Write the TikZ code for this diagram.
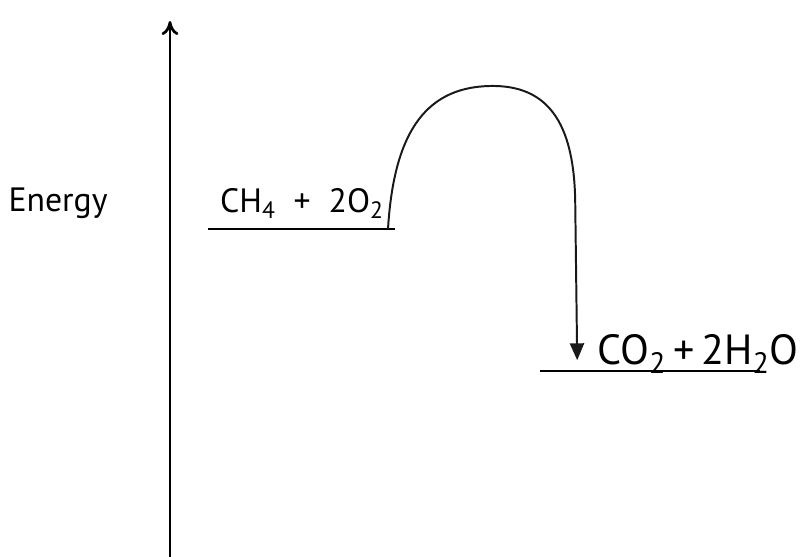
\documentclass[tikz,border=0pt]{standalone}
\usepackage{fontspec}
\setmainfont{PT Sans}
\usetikzlibrary{arrows.meta,positioning}

\begin{document}
\begin{tikzpicture}[
  axis/.style={draw, line width=1.9pt, -{To[length=10pt,width=12pt]}},
  level/.style={draw, line width=1.8pt},
  path/.style={draw, line width=1.4pt, gray!20!black, -{Triangle[length=12pt,width=10pt]}},
  label/.style={font=\fontsize{24}{28}\selectfont, inner sep=0pt, anchor=base},
  hand/.style={font=\fontsize{30}{34}\selectfont, inner sep=0pt, anchor=base}
]
  \useasboundingbox (0,0) rectangle (20.125,13.925);
  % energy axis
  \coordinate (axisbot) at (4.25,0);
  \coordinate (axistop) at (4.25,13.4);
  \draw[axis] (axisbot) -- (axistop);
  \node[label, anchor=center] (energy) at (1.45,8.85) {Energy};
  % levels
  \coordinate (rleft) at (5.2,8.2);
  \coordinate (rright) at (9.875,8.2);
  \coordinate (pleft) at (13.5,4.65);
  \coordinate (pright) at (19.0,4.65);
  \draw[level] (rleft) -- (rright);
  \draw[level] (pleft) -- (pright);
  \node[label] (reactants) at (7.55,8.6) {CH\textsubscript{4} \ + \ 2O\textsubscript{2}};
  \node[hand] (products) at (17.45,4.8) {CO\textsubscript{2}\,+\,2H\textsubscript{2}O};
  % reaction path
  \coordinate (rstart) at (9.7,8.2);
  \coordinate (peak) at (12.375,11.775);
  \coordinate (pend) at (14.43,4.92);
  \draw[path] (rstart) .. controls (9.85,10.7) and (10.7,11.8) .. (peak)
    .. controls (13.8,11.75) and (14.35,10.7) .. (14.38,8.9) -- (pend);
\end{tikzpicture}
\end{document}
